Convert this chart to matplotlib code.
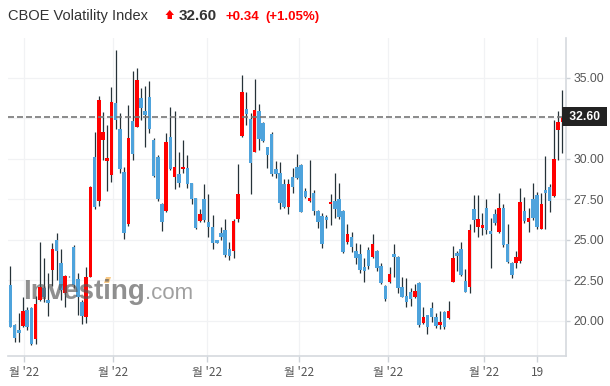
import matplotlib
matplotlib.use("Agg")
import matplotlib.pyplot as plt
from matplotlib.patches import Polygon
import numpy as np

# daily OHLC, CBOE Volatility Index
opens = [
    22.22, 19.75, 19.45, 19.69, 20.68, 20.78, 18.87, 21.30, 22.06, 21.30,
    23.14, 24.99, 23.56, 21.75, 22.78, 24.58, 22.57, 21.19, 20.27, 22.73,
    30.13, 27.40, 31.16, 29.88, 29.00, 33.46, 31.81, 29.21, 25.98, 32.33,
    31.98, 33.77, 32.97, 33.79, 31.16, 30.09, 27.19, 26.80, 31.32, 28.86,
    29.06, 29.35, 29.45, 28.49, 27.56, 26.19, 27.50, 26.10, 25.77, 24.99,
    25.45, 25.61, 24.44, 24.34, 26.29, 31.40, 33.07, 32.45, 30.44, 32.97,
    32.19, 30.71, 31.53, 29.37, 29.10, 28.42, 27.01, 28.86, 29.47, 29.62,
    28.01, 27.42, 27.87, 26.78, 26.47, 26.43, 27.19, 27.40, 27.50, 26.78,
    24.89, 25.16, 24.34, 24.13, 23.31, 24.38, 23.96, 24.34, 23.39, 22.16,
    22.43, 24.13, 23.92, 22.08, 21.54, 21.81, 21.46, 22.34, 19.90, 20.37,
    20.78, 20.27, 19.75, 20.54, 20.21, 22.43, 24.21, 24.42, 22.47, 22.12,
    26.90, 25.82, 25.75, 26.95, 25.55, 26.60, 25.51, 26.95, 24.75, 23.60,
    23.60, 23.72, 26.78, 26.12, 27.50, 27.77, 25.69, 28.08, 28.26, 27.71,
    31.77, 32.26]
highs = [
    23.39, 19.80, 20.51, 21.50, 20.88, 20.88, 21.56, 24.87, 23.86, 22.94,
    24.79, 25.41, 24.46, 22.84, 22.80, 24.69, 22.94, 21.30, 23.31, 28.34,
    31.63, 33.87, 32.90, 32.08, 34.40, 36.71, 32.84, 29.51, 33.32, 35.41,
    35.58, 34.38, 34.49, 34.82, 31.26, 30.23, 27.25, 31.57, 33.17, 32.97,
    30.44, 31.16, 30.23, 28.49, 27.56, 26.88, 28.42, 27.81, 26.53, 25.01,
    25.82, 26.27, 24.89, 26.27, 29.66, 35.16, 34.10, 32.84, 34.90, 33.36,
    32.29, 30.75, 31.63, 29.88, 29.78, 28.73, 28.73, 29.41, 30.27, 29.68,
    28.18, 29.92, 28.08, 26.84, 26.68, 26.53, 27.81, 29.10, 28.49, 26.84,
    25.96, 25.47, 24.79, 24.75, 23.86, 24.58, 25.36, 24.38, 23.56, 22.22,
    23.31, 24.75, 24.01, 22.69, 22.63, 22.01, 22.26, 22.38, 20.88, 20.39,
    21.19, 20.47, 20.64, 20.64, 21.25, 24.64, 24.32, 24.89, 23.19, 25.96,
    27.77, 27.77, 26.64, 27.50, 26.33, 26.88, 27.87, 27.21, 25.96, 23.66,
    24.32, 28.18, 27.62, 26.95, 28.49, 27.97, 27.87, 30.19, 28.45, 32.39,
    32.95, 34.24]
lows = [
    19.61, 18.73, 18.73, 19.61, 19.45, 18.52, 18.58, 21.25, 21.19, 20.33,
    22.18, 22.53, 21.30, 20.88, 22.74, 22.01, 20.37, 19.82, 19.86, 22.69,
    26.88, 27.11, 29.92, 28.03, 28.59, 31.81, 29.14, 25.03, 25.86, 29.92,
    31.94, 32.39, 30.75, 31.61, 28.86, 27.42, 25.57, 26.74, 29.31, 28.12,
    28.28, 29.10, 28.18, 27.19, 25.65, 26.12, 26.12, 25.20, 24.42, 24.79,
    24.99, 23.92, 23.76, 23.86, 26.12, 31.36, 32.08, 27.81, 30.40, 30.54,
    31.06, 29.41, 28.96, 28.80, 26.88, 26.99, 26.60, 27.91, 28.73, 26.72,
    27.56, 27.36, 26.53, 25.71, 24.48, 25.71, 25.92, 26.33, 26.29, 24.17,
    24.75, 24.27, 23.51, 22.98, 22.43, 23.19, 23.86, 23.08, 22.28, 21.25,
    22.32, 22.73, 21.75, 21.46, 20.84, 20.93, 21.40, 19.61, 19.82, 19.18,
    19.96, 19.55, 19.49, 19.49, 20.10, 22.38, 23.10, 22.77, 21.77, 21.71,
    25.51, 25.20, 25.30, 25.34, 23.25, 25.92, 25.41, 24.58, 23.60, 22.67,
    23.25, 23.60, 26.06, 25.47, 26.23, 25.65, 25.65, 25.65, 26.74, 27.66,
    29.92, 30.38]
closes = [
    19.65, 18.93, 19.28, 20.62, 19.65, 18.58, 21.03, 22.12, 21.50, 21.13,
    24.42, 24.34, 21.91, 22.77, 22.76, 22.22, 21.50, 20.31, 22.69, 28.28,
    27.05, 33.62, 31.65, 30.07, 33.52, 32.39, 29.35, 25.45, 31.30, 30.27,
    34.86, 33.11, 32.68, 31.81, 28.94, 27.50, 26.12, 31.03, 29.37, 29.51,
    28.53, 29.49, 28.42, 27.54, 25.75, 26.60, 26.23, 25.77, 24.79, 24.83,
    25.16, 24.07, 24.01, 26.17, 27.83, 34.10, 32.76, 29.72, 33.01, 31.20,
    31.12, 30.23, 29.04, 29.06, 27.30, 27.01, 28.45, 28.24, 28.80, 26.74,
    27.62, 27.58, 26.80, 26.12, 24.73, 26.23, 27.32, 26.88, 26.43, 24.27,
    25.36, 24.54, 23.90, 23.15, 23.10, 23.41, 24.75, 23.29, 22.36, 21.38,
    22.88, 23.96, 22.01, 21.50, 21.19, 21.34, 21.85, 19.75, 20.27, 19.61,
    20.27, 19.71, 19.96, 19.61, 20.62, 23.86, 24.03, 22.84, 21.81, 25.61,
    26.23, 26.29, 25.92, 25.61, 25.38, 26.06, 26.95, 24.69, 23.66, 22.84,
    23.92, 27.32, 26.19, 26.33, 26.37, 25.82, 27.19, 27.91, 27.42, 29.99,
    32.26, 32.60]

last_price = 32.60
tick_pos = [3.25, 24.4, 46.7, 68.6, 89.7, 112.5, 125.0]
tick_labels = ["월 '22", "월 '22", "월 '22", "월 '22", "월 '22", "월 '22", "19"]
y_ticks = [20.0, 22.5, 25.0, 27.5, 30.0, 32.5, 35.0]

UP = "#ff0000"
DOWN = "#4ea3dc"
WICK = "#263238"

o = np.array(opens)
h = np.array(highs)
l = np.array(lows)
c = np.array(closes)
x = np.arange(len(o))
colors = [UP if cc >= oo else DOWN for oo, cc in zip(o, c)]

fig = plt.figure(figsize=(6.10, 3.86), dpi=100)
ax = fig.add_axes([8 / 610, 1 - 356 / 386, 557.5 / 610, 318 / 386])

ax.vlines(x, l, h, color=WICK, linewidth=0.9, zorder=2)
ax.bar(x, np.abs(c - o), bottom=np.minimum(o, c), width=0.84,
       color=colors, linewidth=0, zorder=3)

ax.axhline(last_price, color="#777777", linewidth=1.2,
           linestyle=(0, (3.6, 1.8)), zorder=4)

ax.set_xlim(-0.55, 131.75)
ax.set_ylim(17.84, 37.45)

ax.yaxis.tick_right()
ax.set_yticks(y_ticks)
# the 32.50 label sits under the last-price tag
ax.set_yticklabels(["" if v == 32.5 else f"{v:.2f}" for v in y_ticks])
ax.set_xticks(tick_pos)
ax.set_xticklabels(tick_labels, family=["Noto Sans CJK KR", "DejaVu Sans"])

ax.tick_params(axis="y", length=3, width=1, color="#cdd2d8", pad=3,
               labelsize=8.7, labelcolor="#555555")
ax.tick_params(axis="x", length=4, width=1, color="#cdd2d8", pad=3,
               labelsize=8.5, labelcolor="#555555")
for lab in ax.get_yticklabels():
    lab.set_family("Liberation Sans")

ax.grid(True, color="#f1f2f4", linewidth=0.9, zorder=0)
for s in ["top", "left"]:
    ax.spines[s].set_visible(False)
for s in ["right", "bottom"]:
    ax.spines[s].set_color("#d5d9de")
    ax.spines[s].set_linewidth(1.2)

# last price tag
ax.text(1.0, last_price, " 32.60 ", transform=ax.get_yaxis_transform(),
        ha="left", va="center", color="white", fontsize=8.7,
        family="Liberation Sans", fontweight="bold", zorder=6,
        bbox=dict(boxstyle="square,pad=0.3", fc="#222222", ec="none"))

# watermark
fig.text(23 / 610, 1 - 299 / 386, "Investing", fontsize=20, fontweight="bold",
         family="Liberation Sans", color="#555555", alpha=0.65, va="baseline")
fig.text(145 / 610, 1 - 299 / 386, ".com", fontsize=16,
         family="Liberation Sans", color="#888888", alpha=0.8, va="baseline")
fig.add_artist(Polygon([[106 / 610, 1 - 277 / 386], [111 / 610, 1 - 277 / 386],
                        [109 / 610, 1 - 283 / 386], [104 / 610, 1 - 283 / 386]],
                       closed=True, transform=fig.transFigure,
                       fc="#f8c070", ec="none", alpha=0.85))

# header
fig.text(8 / 610, 1 - 20 / 386, "CBOE Volatility Index", fontsize=10.5,
         family="Liberation Sans", color="#333333", va="baseline")
fig.add_artist(Polygon([[165.5 / 610, 1 - 15 / 386], [169.75 / 610, 1 - 10 / 386],
                        [174 / 610, 1 - 15 / 386], [172 / 610, 1 - 15 / 386],
                        [172 / 610, 1 - 19 / 386], [167.5 / 610, 1 - 19 / 386],
                        [167.5 / 610, 1 - 15 / 386]],
                       closed=True, transform=fig.transFigure, fc=UP, ec="none"))
fig.text(179 / 610, 1 - 20 / 386, "32.60", fontsize=11, fontweight="bold",
         family="Liberation Sans", color="#333333", va="baseline")
fig.text(225 / 610, 1 - 20 / 386, "+0.34", fontsize=9.5, fontweight="bold",
         family="Liberation Sans", color=UP, va="baseline")
fig.text(265 / 610, 1 - 20 / 386, "(+1.05%)", fontsize=9.5, fontweight="bold",
         family="Liberation Sans", color=UP, va="baseline")

fig.savefig("out.png", dpi=100)
